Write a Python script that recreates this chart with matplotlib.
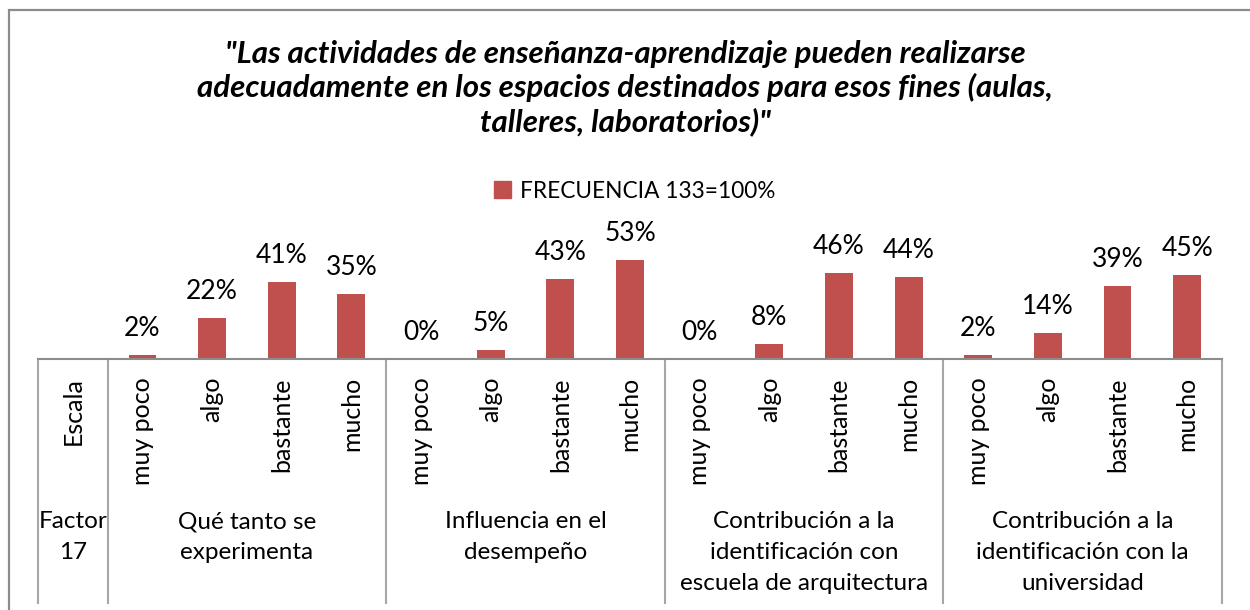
import matplotlib
matplotlib.use("Agg")
import matplotlib.pyplot as plt
from matplotlib.patches import Rectangle, Patch
from matplotlib.transforms import blended_transform_factory

plt.rcParams['font.family'] = ['Lato', 'DejaVu Sans']

title = ('"Las actividades de enseñanza-aprendizaje pueden realizarse\n'
         'adecuadamente en los espacios destinados para esos fines (aulas,\n'
         'talleres, laboratorios)"')
series_name = "FRECUENCIA 133=100%"

scale = ["muy poco", "algo", "bastante", "mucho"]
factors = [
    "Qué tanto se\nexperimenta",
    "Influencia en el\ndesempeño",
    "Contribución a la\nidentificación con\nescuela de arquitectura",
    "Contribución a la\nidentificación con la\nuniversidad",
]
experimenta = [2, 22, 41, 35]
desempeno = [0, 5, 43, 53]
escuela = [0, 8, 46, 44]
universidad = [2, 14, 39, 45]

bar_color = "#C0504D"
line_color = "#8C8C8C"

W, H = 1250, 610
fig = plt.figure(figsize=(W / 100, H / 100), dpi=100)
fig.patch.set_facecolor("white")

# outer chart border (only top/left visible in the frame)
fig.patches.append(Rectangle((9 / W, -0.05), 1.1, (H - 10) / H + 0.05,
                             transform=fig.transFigure, fill=False,
                             edgecolor=line_color, linewidth=1.6))

ax = fig.add_axes([38 / W, (H - 359) / H, (1222 - 38) / W, 119 / H])

# first slot is the "Escala / Factor 17" header column, which has no bar
values = [None]
for grp in (experimenta, desempeno, escuela, universidad):
    values += grp
xs = list(range(len(values)))
bx = [x for x, v in zip(xs, values) if v is not None]
bv = [v for v in values if v is not None]

bars = ax.bar(bx, bv, width=0.4, color=bar_color, label=series_name)
for x, v in zip(bx, bv):
    ax.annotate(f"{v}%", (x, v), xytext=(0, 19), textcoords="offset points",
                ha="center", va="center", fontsize=19, color="black")

ax.set_xlim(-0.5, len(values) - 0.5)
ax.set_ylim(0, 63.6)
for s in ("top", "left", "right"):
    ax.spines[s].set_visible(False)
ax.spines["bottom"].set_color(line_color)
ax.spines["bottom"].set_linewidth(1.5)
ax.set_xticks([])
ax.set_yticks([])

# category table under the axis
tr = blended_transform_factory(ax.transData, fig.transFigure)
y_axis = (H - 359) / H
y_end = (H - 603) / H
for xsep in [-0.5, 0.5, 4.5, 8.5, 12.5, 16.5]:
    ax.plot([xsep, xsep], [y_axis, y_end], transform=tr, color="#A6A6A6",
            linewidth=1.5, clip_on=False)

ax.text(0, (H - 377) / H, "Escala", transform=tr, rotation=90,
        ha="center", va="top", fontsize=18)
ax.text(0, (H - 511) / H, "Factor\n17", transform=tr, ha="center",
        va="top", fontsize=17.5, linespacing=1.6)
for g, name in enumerate(factors):
    for k, lab in enumerate(scale):
        ax.text(1 + 4 * g + k, (H - 377) / H, lab, transform=tr, rotation=90,
                ha="center", va="top", fontsize=18)
    ax.text(2.5 + 4 * g, (H - 511) / H, name, transform=tr, ha="center",
            va="top", fontsize=17.5, linespacing=1.6)

fig.text(0.5, (H - 88) / H, title, ha="center", va="center", fontsize=22.5,
         fontweight="bold", fontstyle="italic", linespacing=1.2)

fig.legend(handles=[Patch(color=bar_color, label=series_name)],
           loc="center", bbox_to_anchor=(635 / W, (H - 191) / H),
           frameon=False, fontsize=16.3, handlelength=0.75, handleheight=0.75,
           handletextpad=0.4)

fig.savefig("out.png", dpi=100)
